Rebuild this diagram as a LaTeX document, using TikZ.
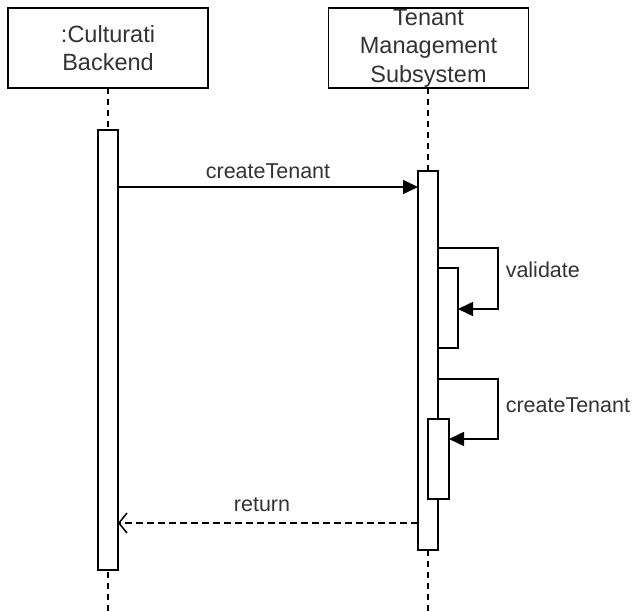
\documentclass[tikz,border=0pt]{standalone}
\usepackage{fontspec}
\setmainfont{Liberation Sans}
\usetikzlibrary{arrows.meta}
\begin{document}
\begin{tikzpicture}[x=1pt,y=-1pt,
  line width=1.5pt,
  txt/.style={text=black!80,font=\fontsize{21.5}{29}\selectfont,inner sep=0pt},
  headbox/.style={draw,fill=white,minimum width=200pt,minimum height=80pt,inner sep=0pt,outer sep=0pt,align=center,
    text=black!80,font=\fontsize{23.5}{28.5}\selectfont},
  actbox/.style={draw,fill=white,minimum width=20pt,inner sep=0pt,outer sep=0pt},
  lifeline/.style={line width=1.3pt,dash pattern=on 6pt off 5pt},
  callmsg/.style={-{Triangle[length=15pt,width=14pt]}},
  retmsg/.style={dash pattern=on 7pt off 4pt,-{Straight Barb[length=8pt,width=20pt]}}
]
\useasboundingbox (0,0) rectangle (637,612);

% lifelines
\coordinate (l1top) at (108,88);
\coordinate (l1bot) at (108,612);
\coordinate (l2top) at (428,88);
\coordinate (l2bot) at (428,612);
\draw[lifeline] (l1top) -- (l1bot);
\draw[lifeline] (l2top) -- (l2bot);

% participants
\node[headbox] (backend) at (108,48) {:Culturati\\Backend};
\node[headbox] (tms) at (428.5,48) {Tenant\\Management\\Subsystem};

% activations
\node[actbox,minimum height=440pt] (act1) at (108,350) {};
\node[actbox,minimum height=379pt] (act2) at (428,360.5) {};
\node[actbox,minimum height=80pt] (actval) at (448,308) {};
\node[actbox,minimum width=21pt,minimum height=80pt] (actcre) at (438.5,459) {};

% createTenant call
\draw[callmsg] (act1.east |- 0,187) -- (act2.west |- 0,187);
\node[txt] (lblcall) at (268,171) {createTenant};

% validate self call
\coordinate (v1) at (498,248);
\coordinate (v2) at (498,309);
\draw[callmsg] (act2.east |- v1) -- (v1) -- (v2) -- (actval.east |- v2);
\node[txt,anchor=west] (lblval) at (505,270) {validate};

% createTenant self call
\coordinate (c1) at (498,379);
\coordinate (c2) at (498,439);
\draw[callmsg] (act2.east |- c1) -- (c1) -- (c2) -- (actcre.east |- c2);
\node[txt,anchor=west] (lblcre) at (505,405) {createTenant};

% return
\draw[retmsg] (act2.west |- 0,523) -- (act1.east |- 0,523);
\node[txt] (lblret) at (262,505) {return};
\end{tikzpicture}
\end{document}
